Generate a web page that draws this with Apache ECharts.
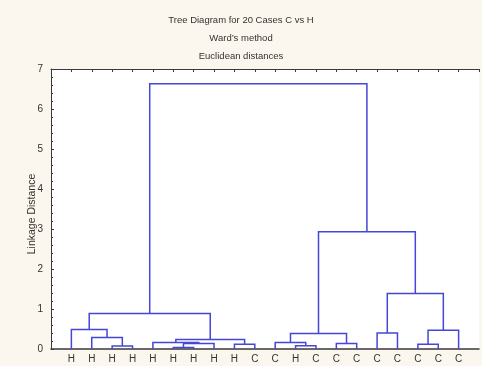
<!DOCTYPE html>
<html>
<head>
<meta charset="utf-8">
<script src="https://cdn.jsdelivr.net/npm/echarts@6/dist/echarts.min.js"></script>
<style>
  html, body { margin: 0; padding: 0; background: #fbf7ee; }
  #chart { width: 482px; height: 366px; }
</style>
</head>
<body>
<div id="chart"></div>
<script>
// Leaf labels in the order they appear along the horizontal axis
const leafLabels = ['H','H','H','H','H','H','H','H','H','C','C','H','C','C','C','C','C','C','C','C'];

// Agglomeration steps (Ward's method): children are leaf indices (0-19)
// or earlier clusters (20 + step number); heights are linkage distances.
const mergeLeft    = [5, 2, 11, 8, 17, 20, 13, 4, 10, 27, 1, 28, 15, 24, 0, 34, 32, 31, 35];
const mergeRight   = [6, 3, 12, 9, 18, 7, 14, 25, 22, 23, 21, 26, 16, 19, 30, 29, 33, 36, 37];
const mergeHeight  = [0.04, 0.075, 0.08, 0.12, 0.12, 0.14, 0.14, 0.16, 0.16, 0.24, 0.29, 0.39, 0.40, 0.47, 0.49, 0.89, 1.39, 2.93, 6.63];

const yTicks = [0, 1, 2, 3, 4, 5, 6, 7];

// Position of every node: leaves sit at 1..n, clusters at the mean of their children
const n = leafLabels.length;
const nodeX = leafLabels.map((_, i) => i + 1);
const nodeY = leafLabels.map(() => 0);
const links = [];
for (let k = 0; k < mergeHeight.length; k++) {
  const a = mergeLeft[k], b = mergeRight[k], h = mergeHeight[k];
  links.push([nodeX[a], nodeY[a], nodeX[b], nodeY[b], h]);
  nodeX.push((nodeX[a] + nodeX[b]) / 2);
  nodeY.push(h);
}

const axisColor = '#3a3a3a';
const textColor = '#333';
const font = 'Liberation Sans, Arial, sans-serif';

const chart = echarts.init(document.getElementById('chart'), null, { renderer: 'canvas' });
chart.setOption({
  backgroundColor: '#fbf7ee',
  animation: false,
  title: {
    text: 'Tree Diagram for 20 Cases C vs H\nWard\u2019s method\nEuclidean distances',
    left: 'center',
    top: 6,
    textStyle: { fontFamily: font, fontSize: 9.5, fontWeight: 'normal', color: textColor, lineHeight: 18 }
  },
  graphic: [{
    type: 'text',
    x: 32, y: 214,
    rotation: Math.PI / 2,
    style: {
      text: 'Linkage Distance',
      fontFamily: font, fontSize: 10.5, fill: textColor,
      align: 'center', verticalAlign: 'middle'
    }
  }],
  grid: {
    left: 51, right: -4, top: 69, bottom: 17,
    show: true, backgroundColor: '#ffffff', borderWidth: 0
  },
  xAxis: [
    {
      type: 'value', min: 0, max: n + 1, interval: 1, position: 'bottom',
      axisLine: { show: true, lineStyle: { color: axisColor, width: 1.5 } },
      axisTick: { show: false },
      splitLine: { show: false },
      axisLabel: {
        margin: 5, fontFamily: font, fontSize: 10, color: textColor,
        formatter: v => (v >= 1 && v <= n ? leafLabels[v - 1] : '')
      }
    },
    {
      type: 'value', min: 0, max: n + 1, interval: 1, position: 'top',
      axisLine: { show: true, lineStyle: { color: axisColor, width: 1 } },
      axisTick: { show: true, inside: true, length: 3, lineStyle: { color: axisColor } },
      axisLabel: { show: false },
      splitLine: { show: false }
    }
  ],
  yAxis: {
    type: 'value', min: 0, max: 7, interval: 1,
    axisLine: { show: true, lineStyle: { color: axisColor, width: 1 } },
    axisTick: { show: true, inside: true, length: 3, lineStyle: { color: axisColor } },
    minorTick: { show: true, splitNumber: 5, length: 2, lineStyle: { color: axisColor } },
    splitLine: { show: false },
    axisLabel: {
      margin: 8, fontFamily: font, fontSize: 10, color: textColor,
      formatter: v => (yTicks.includes(v) ? String(v) : '')
    }
  },
  series: [{
    type: 'custom',
    xAxisIndex: 0,
    coordinateSystem: 'cartesian2d',
    data: links,
    encode: { x: [0, 2], y: [1, 3, 4] },
    renderItem: (params, api) => {
      const x1 = api.value(0), y1 = api.value(1), x2 = api.value(2), y2 = api.value(3), h = api.value(4);
      const pts = [api.coord([x1, y1]), api.coord([x1, h]), api.coord([x2, h]), api.coord([x2, y2])];
      return {
        type: 'polyline',
        shape: { points: pts },
        style: { stroke: '#4646d8', lineWidth: 1.5, fill: null }
      };
    }
  }]
});
</script>
</body>
</html>
